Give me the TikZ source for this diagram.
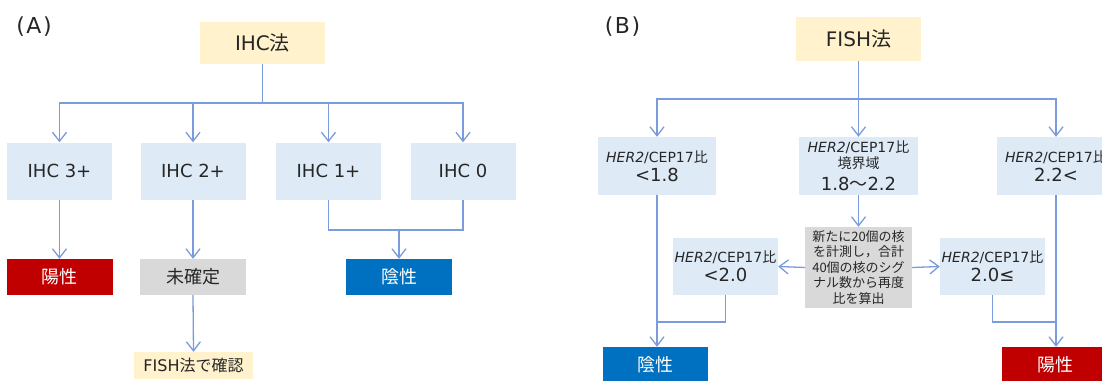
\documentclass[tikz,border=0pt]{standalone}
\usepackage{fontspec}
\setmainfont{DejaVu Sans}
\newfontfamily\jp{Noto Sans CJK JP}
\usetikzlibrary{arrows.meta}
\definecolor{ln}{HTML}{7A9CDC}
\definecolor{lblue}{HTML}{DEEBF7}
\definecolor{lyel}{HTML}{FFF2CC}
\definecolor{lgray}{HTML}{D9D9D9}
\definecolor{dred}{HTML}{C00000}
\definecolor{dblue}{HTML}{0070C0}
\definecolor{txt}{HTML}{262626}
\newcommand{\ratiotxt}{\textit{HER2}/CEP17{\jp 比}}
\newcommand{\numtxt}{\fontsize{18}{16}\selectfont}
\tikzset{
 box/.style={inner sep=0pt, text=txt, align=center},
 bluebox/.style={box, fill=lblue},
 yelbox/.style={box, fill=lyel},
 greybox/.style={box, fill=lgray},
 redbox/.style={box, fill=dred, text=white},
 negbox/.style={box, fill=dblue, text=white},
 conn/.style={draw=ln, line width=1.3pt},
 arr/.style={conn, -{Straight Barb[length=9pt,width=14pt]}},
 big/.style={font=\fontsize{20}{24}\selectfont},
 mid/.style={font=\fontsize{18}{22}\selectfont},
 small/.style={font=\fontsize{14}{16}\selectfont},
 lab/.style={box, font=\fontsize{22}{24}\selectfont},
 cell/.style={minimum width=105pt, minimum height=57pt},
 res/.style={minimum width=106pt, minimum height=36pt},
}
\begin{document}
\begin{tikzpicture}[x=1pt,y=-1pt]
\useasboundingbox[fill=white] (0,0) rectangle (1102,380);
% ---------- (A) ----------
\node[lab] (labA) at (34,26.5) {(\kern1.5pt A\kern1.5pt)};
\node[yelbox, big, minimum width=125pt, minimum height=42pt] (ihc) at (262.5,43) {IHC{\jp 法}};
\coordinate (jA) at (262.5,103);
\node[bluebox, cell, mid] (i3) at (59.5,171) {IHC 3+};
\node[bluebox, cell, mid] (i2) at (193,171) {IHC 2+};
\node[bluebox, cell, mid] (i1) at (328.5,171) {IHC 1+};
\node[bluebox, cell, mid] (i0) at (463,171) {IHC 0};
\node[redbox, res, mid] (posA) at (59.5,277) {\jp 陽性};
\node[greybox, res, mid] (und) at (193,277) {\jp 未確定};
\node[negbox, res, mid] (negA) at (399,277) {\jp 陰性};
\node[yelbox, minimum width=119pt, minimum height=27pt, font=\fontsize{16}{18}\selectfont] (fc) at (193.5,365.5) {FISH{\jp 法で確認}};
\coordinate (mA) at (399,230);
\draw[conn] (ihc.south) -- (jA);
\draw[arr] (jA) -| (i3.north);
\draw[arr] (jA) -| (i2.north);
\draw[arr] (jA) -| (i1.north);
\draw[arr] (jA) -| (i0.north);
\draw[arr] (i3.south) -- (posA.north);
\draw[arr] (i2.south) -- (und.north);
\draw[arr] (und.south) -- (fc.north);
\draw[conn] (i1.south) |- (mA);
\draw[conn] (i0.south) |- (mA);
\draw[arr] (mA) -- (negA.north);
% ---------- (B) ----------
\node[lab] (labB) at (622.5,26.5) {(\kern1.5pt B\kern1.5pt)};
\node[yelbox, big, minimum width=125pt, minimum height=44pt] (fish) at (858.5,39) {FISH{\jp 法}};
\coordinate (jB) at (858.5,99);
\node[bluebox, small, minimum width=118pt, minimum height=58pt] (b1) at (657,166)
  {\ratiotxt\\[3pt]\numtxt <1.8};
\node[bluebox, small, minimum width=119pt, minimum height=58pt] (b2) at (858.5,166)
  {\ratiotxt\\\jp 境界域\\[6pt]\numtxt 1.8{\jp 〜}2.2};
\node[bluebox, small, minimum width=118pt, minimum height=58pt] (b3) at (1056,166)
  {\ratiotxt\\[3pt]\numtxt 2.2<};
\node[greybox, minimum width=107pt, minimum height=81pt, font=\jp\fontsize{13}{15.5}\selectfont] (grey) at (858.5,267.5)
  {新たに20個の核\\を計測し，合計\\40個の核のシグ\\ナル数から再度\\比を算出};
\node[bluebox, small, minimum width=105pt, minimum height=57pt] (c1) at (725.5,266.5)
  {\ratiotxt\\[3pt]\numtxt <2.0};
\node[bluebox, small, minimum width=105pt, minimum height=57pt] (c2) at (992.5,266.5)
  {\ratiotxt\\[3pt]\numtxt 2.0≤};
\node[negbox, minimum width=105pt, minimum height=36pt, mid] (negB) at (655.5,365) {\jp 陰性};
\node[redbox, minimum width=106pt, minimum height=36pt, mid] (posB) at (1055,365) {\jp 陽性};
\coordinate (mB1) at (657,322);
\coordinate (mB2) at (1056,322);
\draw[conn] (fish.south) -- (jB);
\draw[arr] (jB) -| (b1.north);
\draw[arr] (jB) -- (b2.north);
\draw[arr] (jB) -| (b3.north);
\draw[arr] (b2.south) -- (grey.north);
\draw[arr] (grey.west) -- (c1.east);
\draw[arr] (grey.east) -- (c2.west);
\draw[arr] (b1.south) -- (b1.south |- negB.north);
\draw[arr] (b3.south) -- (b3.south |- posB.north);
\draw[conn] (c1.south) |- (mB1);
\draw[conn] (c2.south) |- (mB2);
\end{tikzpicture}
\end{document}
